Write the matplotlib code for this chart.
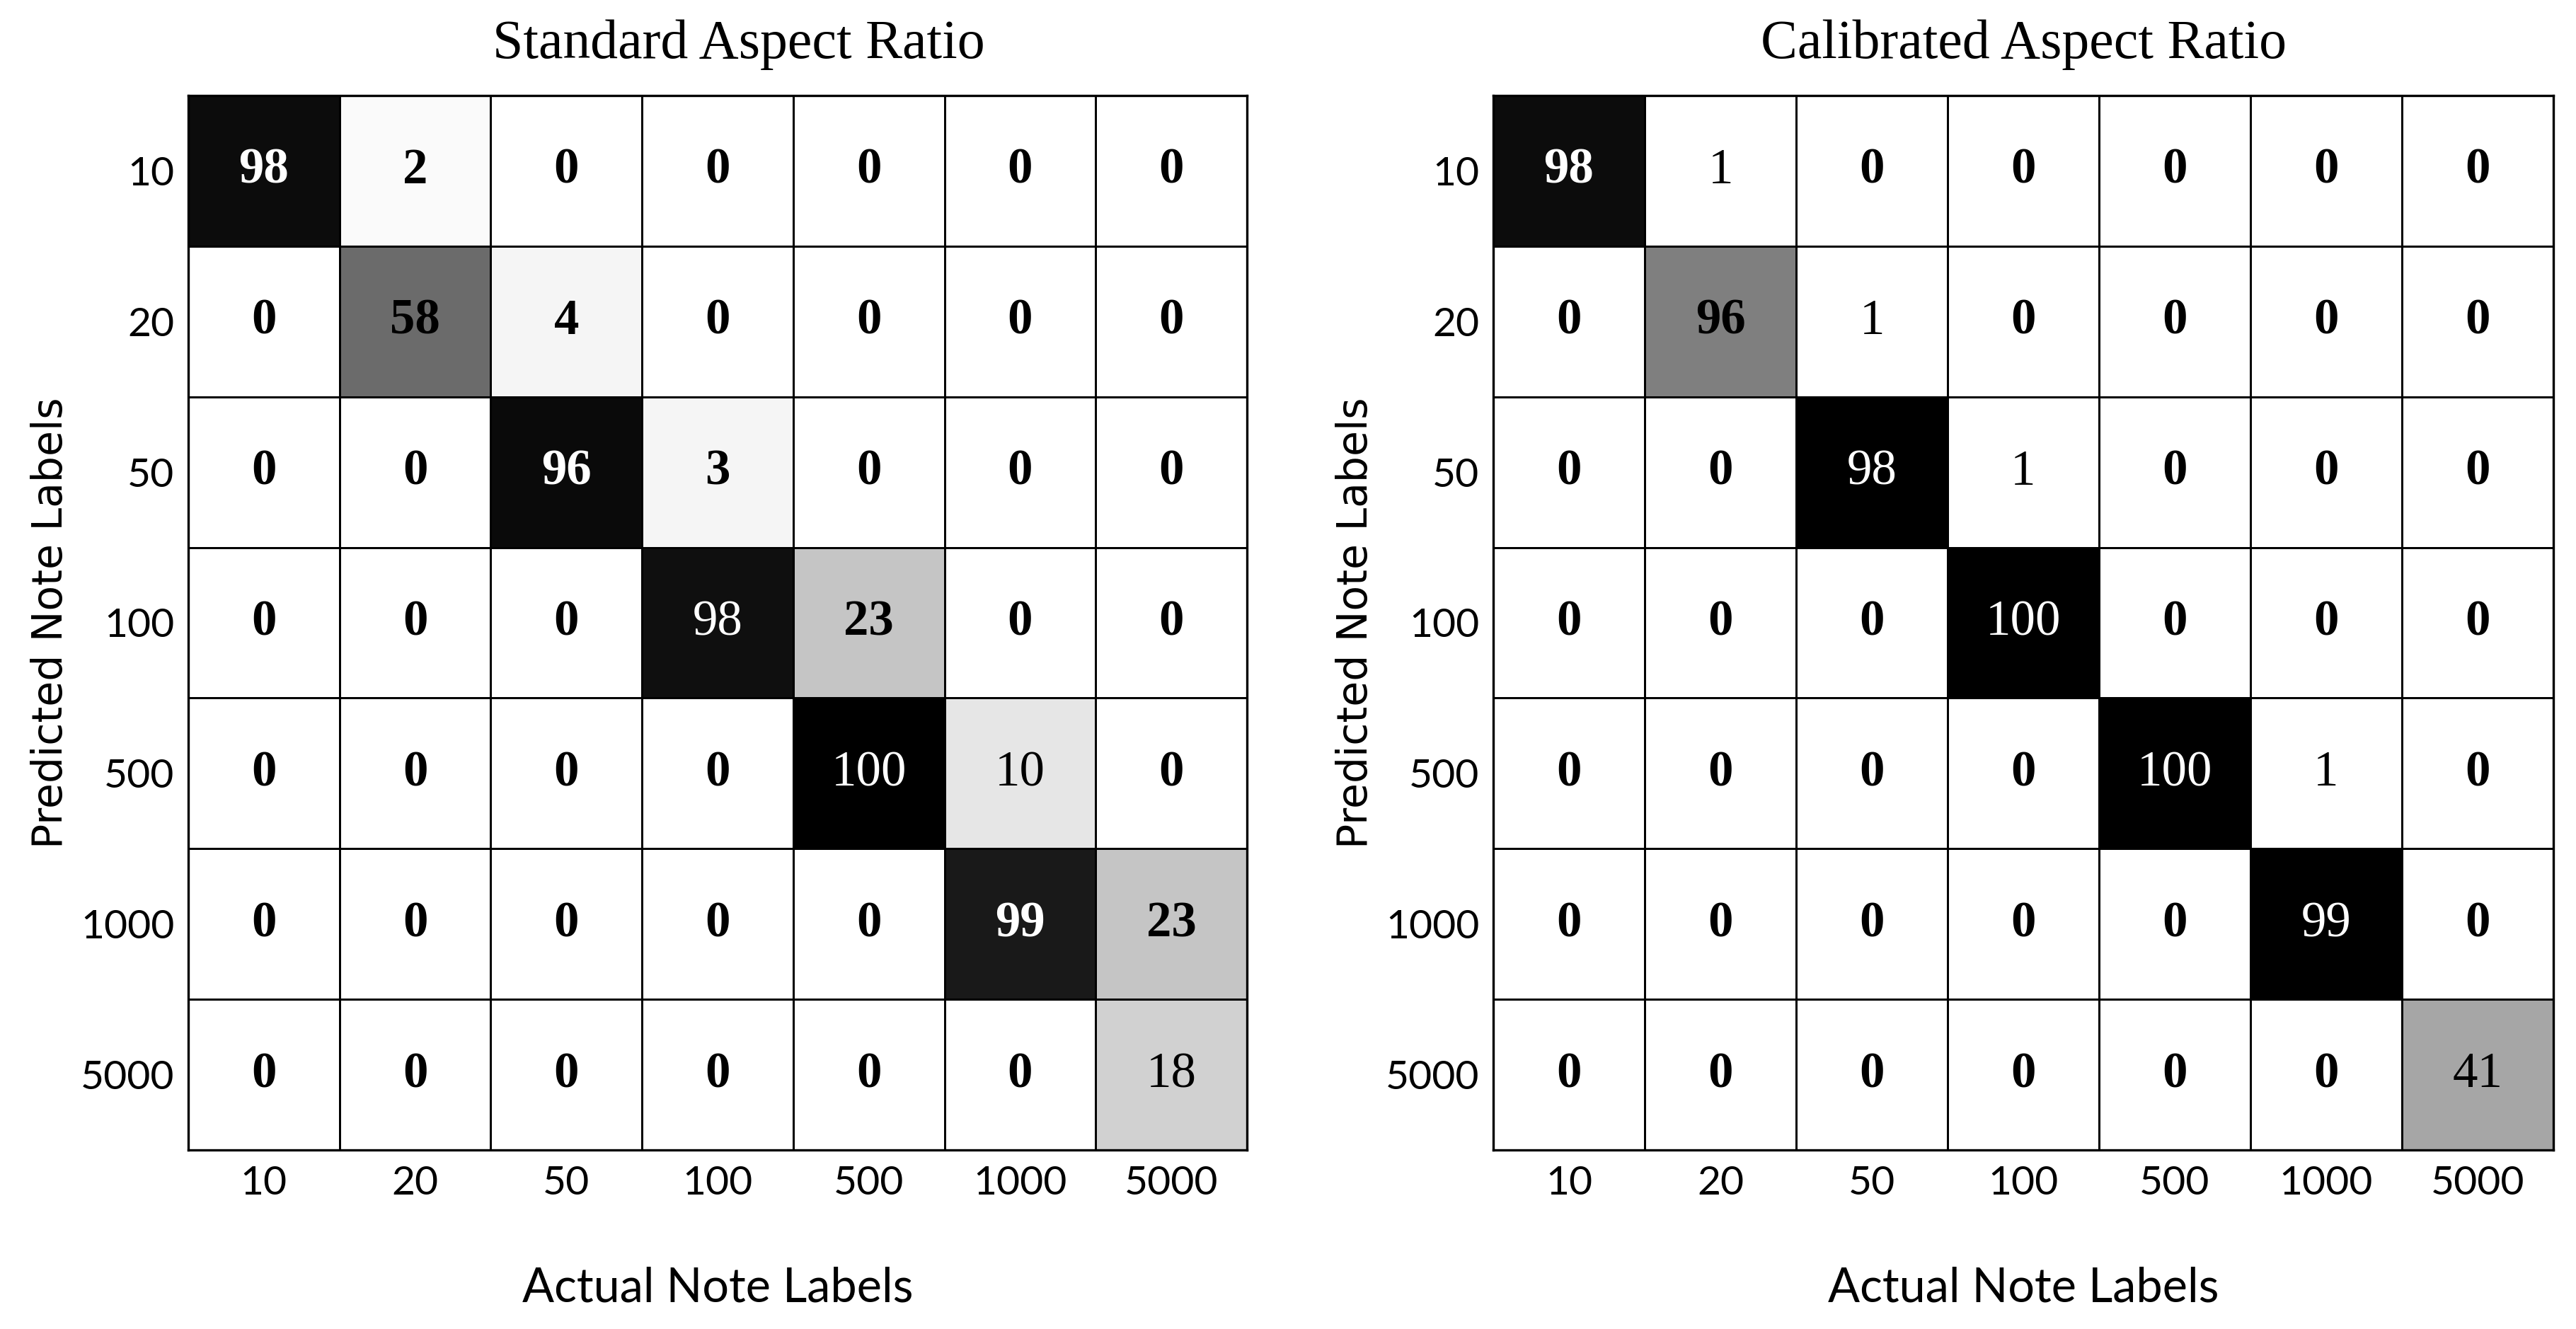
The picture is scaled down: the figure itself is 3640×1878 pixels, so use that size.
import numpy as np
import matplotlib
matplotlib.use("Agg")
import matplotlib.pyplot as plt

note_labels = ["10", "20", "50", "100", "500", "1000", "5000"]

# percentages shown in the cells (rows = predicted, cols = actual)
standard_vals = np.array([
    [98, 2, 0, 0, 0, 0, 0],
    [0, 58, 4, 0, 0, 0, 0],
    [0, 0, 96, 3, 0, 0, 0],
    [0, 0, 0, 98, 23, 0, 0],
    [0, 0, 0, 0, 100, 10, 0],
    [0, 0, 0, 0, 0, 99, 23],
    [0, 0, 0, 0, 0, 0, 18],
])
calibrated_vals = np.array([
    [98, 1, 0, 0, 0, 0, 0],
    [0, 96, 1, 0, 0, 0, 0],
    [0, 0, 98, 1, 0, 0, 0],
    [0, 0, 0, 100, 0, 0, 0],
    [0, 0, 0, 0, 100, 1, 0],
    [0, 0, 0, 0, 0, 99, 0],
    [0, 0, 0, 0, 0, 0, 41],
])

# cell shading (0 = white, 100 = black)
standard_shade = np.array([
    [95, 2, 0, 0, 0, 0, 0],
    [0, 58, 4, 0, 0, 0, 0],
    [0, 0, 96, 4, 0, 0, 0],
    [0, 0, 0, 94, 23, 0, 0],
    [0, 0, 0, 0, 100, 10, 0],
    [0, 0, 0, 0, 0, 90, 23],
    [0, 0, 0, 0, 0, 0, 18],
])
calibrated_shade = np.array([
    [95, 0, 0, 0, 0, 0, 0],
    [0, 50, 0, 0, 0, 0, 0],
    [0, 0, 100, 0, 0, 0, 0],
    [0, 0, 0, 100, 0, 0, 0],
    [0, 0, 0, 0, 100, 0, 0],
    [0, 0, 0, 0, 0, 100, 0],
    [0, 0, 0, 0, 0, 0, 35],
])

# cells whose numbers are printed in regular (not bold) weight
standard_regular = [(3, 3), (4, 4), (4, 5), (6, 6)]
calibrated_regular = [(0, 1), (1, 2), (2, 2), (2, 3), (3, 3), (4, 4), (4, 5), (5, 5), (6, 6)]

fig = plt.figure(figsize=(36.41, 18.78), dpi=100)
ax1 = fig.add_axes([266 / 3641, 1 - 1625 / 1878, 1496 / 3641, 1490 / 1878])
ax2 = fig.add_axes([2110 / 3641, 1 - 1625 / 1878, 1498 / 3641, 1490 / 1878])


def draw_matrix(ax, vals, shade, regular, title, title_x):
    n = len(note_labels)
    ax.pcolormesh(np.arange(n + 1), np.arange(n + 1), shade, cmap="gray_r",
                  vmin=0, vmax=100, edgecolors="black", linewidth=1.8)
    ax.set_xlim(0, n)
    ax.set_ylim(n, 0)
    for i in range(n):
        for j in range(n):
            col = "white" if shade[i, j] > 60 else "black"
            wt = "normal" if (i, j) in regular else "bold"
            ax.text(j + 0.5, i + 0.5, str(vals[i, j]), ha="center", va="center",
                    fontsize=51, color=col, fontweight=wt, family="Liberation Serif")
    ax.set_xticks(np.arange(n) + 0.5)
    ax.set_yticks(np.arange(n) + 0.5)
    ax.set_xticklabels(note_labels, family="Lato", fontsize=41)
    ax.set_yticklabels(note_labels, family="Lato", fontsize=41)
    ax.tick_params(length=0)
    ax.tick_params(axis="x", pad=16)
    ax.tick_params(axis="y", pad=14)
    for s in ax.spines.values():
        s.set_linewidth(2.4)
    ax.set_xlabel("Actual Note Labels", family="Lato", fontsize=48, labelpad=66)
    ax.set_ylabel("Predicted Note Labels", family="DejaVu Sans", fontsize=42, labelpad=10)
    ax.set_title(title, family="Liberation Serif", fontsize=56, pad=38, x=title_x)


draw_matrix(ax1, standard_vals, standard_shade, standard_regular, "Standard Aspect Ratio", 0.52)
draw_matrix(ax2, calibrated_vals, calibrated_shade, calibrated_regular, "Calibrated Aspect Ratio", 0.5)

fig.savefig("out.png", dpi=100, facecolor="white")
